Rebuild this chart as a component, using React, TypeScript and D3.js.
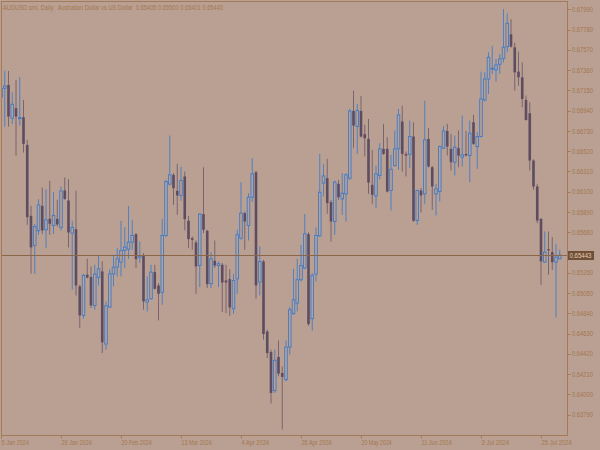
import React from 'react';
import * as d3 from 'd3';

const opens = [
  0.67078, 0.67172, 0.67206, 0.66861, 0.66965, 0.66858, 0.66872, 0.66585, 0.65850, 0.65543,
  0.65695, 0.65954, 0.65706, 0.65819, 0.65750, 0.65819, 0.65730, 0.66113, 0.66009, 0.65671,
  0.65712, 0.65119, 0.64819, 0.65240, 0.65216, 0.64922, 0.65212, 0.65274, 0.64522, 0.64905,
  0.65247, 0.65319, 0.65371, 0.65492, 0.65505, 0.65578, 0.65661, 0.65423, 0.65440, 0.64957,
  0.64991, 0.65267, 0.65129, 0.65057, 0.65647, 0.66178, 0.66275, 0.66109, 0.66061, 0.66258,
  0.65799, 0.65619, 0.65574, 0.65336, 0.65868, 0.65695, 0.65147, 0.65385, 0.65336, 0.65343,
  0.65181, 0.65195, 0.64888, 0.65198, 0.65619, 0.65878, 0.65750, 0.66044, 0.66302, 0.65164,
  0.65378, 0.64653, 0.64439, 0.64039, 0.64388, 0.64222, 0.64153, 0.64491, 0.64836, 0.64947,
  0.65188, 0.65309, 0.65661, 0.64784, 0.65247, 0.65643, 0.66189, 0.66240, 0.65992, 0.65792,
  0.66182, 0.66026, 0.66078, 0.66240, 0.66937, 0.66775, 0.66937, 0.66696, 0.66647, 0.66171,
  0.66057, 0.66268, 0.66544, 0.66544, 0.66113, 0.66371, 0.66544, 0.66827, 0.66492, 0.66489,
  0.66672, 0.65802, 0.66113, 0.66078, 0.66647, 0.66354, 0.66078, 0.66102, 0.66551, 0.66730,
  0.66544, 0.66406, 0.66551, 0.66458, 0.66492, 0.66475, 0.66820, 0.66568, 0.66672, 0.67051,
  0.67268, 0.67372, 0.67362, 0.67420, 0.67482, 0.67603, 0.67731, 0.67596, 0.67344, 0.67286,
  0.67051, 0.66913, 0.66423, 0.66154, 0.65819, 0.65371, 0.65505, 0.65474, 0.65371, 0.65405,
];
const highs = [
  0.67181, 0.67355, 0.67351, 0.67130, 0.67258, 0.67286, 0.67051, 0.66637, 0.65954, 0.65768,
  0.66023, 0.66144, 0.66126, 0.66213, 0.66095, 0.66016, 0.66154, 0.66247, 0.66230, 0.65799,
  0.66109, 0.65136, 0.65250, 0.65405, 0.65326, 0.65343, 0.65436, 0.65378, 0.64964, 0.65298,
  0.65447, 0.65516, 0.65799, 0.65733, 0.65954, 0.65809, 0.65671, 0.65585, 0.65464, 0.65222,
  0.65343, 0.65343, 0.65154, 0.65819, 0.66223, 0.66682, 0.66292, 0.66389, 0.66361, 0.66309,
  0.65850, 0.65637, 0.65595, 0.65878, 0.66354, 0.65706, 0.65474, 0.65595, 0.65378, 0.65361,
  0.65343, 0.65298, 0.65250, 0.65706, 0.66199, 0.65895, 0.66085, 0.66447, 0.66316, 0.65533,
  0.65395, 0.64671, 0.64464, 0.64464, 0.64560, 0.64291, 0.64560, 0.64905, 0.65302, 0.65405,
  0.65550, 0.65868, 0.65681, 0.65257, 0.65730, 0.66492, 0.66389, 0.66440, 0.66016, 0.66216,
  0.66223, 0.66292, 0.66292, 0.66958, 0.67148, 0.67010, 0.67092, 0.66792, 0.66854, 0.66534,
  0.66371, 0.66603, 0.66803, 0.66665, 0.66482, 0.66734, 0.66958, 0.66992, 0.66516, 0.66837,
  0.66820, 0.66120, 0.66137, 0.67044, 0.66758, 0.66368, 0.66182, 0.66578, 0.66782, 0.66803,
  0.66699, 0.66682, 0.66734, 0.66889, 0.66730, 0.66837, 0.66896, 0.66716, 0.67344, 0.67337,
  0.67544, 0.67613, 0.67475, 0.67527, 0.67993, 0.67948, 0.67889, 0.67644, 0.67551, 0.67441,
  0.67096, 0.67027, 0.66437, 0.66182, 0.65826, 0.65688, 0.65688, 0.65630, 0.65561, 0.65500,
];
const lows = [
  0.67067, 0.66775, 0.66775, 0.66803, 0.66475, 0.66785, 0.66506, 0.65757, 0.65250, 0.65250,
  0.65654, 0.65661, 0.65516, 0.65654, 0.65661, 0.65740, 0.65699, 0.66016, 0.65523, 0.65085,
  0.65026, 0.64688, 0.64784, 0.65202, 0.64895, 0.64878, 0.65129, 0.64429, 0.64464, 0.64895,
  0.65119, 0.65222, 0.65222, 0.65309, 0.65405, 0.65499, 0.65309, 0.65361, 0.64878, 0.64860,
  0.64981, 0.65085, 0.64767, 0.64929, 0.65630, 0.66168, 0.65964, 0.65861, 0.66006, 0.65699,
  0.65516, 0.65499, 0.65043, 0.65112, 0.65671, 0.65102, 0.65102, 0.65309, 0.65112, 0.64853,
  0.64843, 0.64815, 0.64836, 0.65043, 0.65602, 0.65499, 0.65595, 0.65992, 0.64991, 0.65026,
  0.64567, 0.64377, 0.63905, 0.64015, 0.64188, 0.63636, 0.64136, 0.64412, 0.64826, 0.64860,
  0.65171, 0.65298, 0.64712, 0.64660, 0.65171, 0.65630, 0.66051, 0.65871, 0.65585, 0.65654,
  0.66016, 0.65861, 0.65792, 0.66223, 0.66551, 0.66492, 0.66661, 0.66465, 0.66078, 0.65975,
  0.65930, 0.66230, 0.66482, 0.66092, 0.65906, 0.66361, 0.66327, 0.66309, 0.66258, 0.66344,
  0.65788, 0.65757, 0.65885, 0.65975, 0.66351, 0.65913, 0.65854, 0.65999, 0.66544, 0.66475,
  0.66320, 0.66268, 0.66354, 0.66361, 0.66465, 0.66199, 0.66585, 0.66337, 0.66661, 0.67034,
  0.67113, 0.67320, 0.67241, 0.67320, 0.67441, 0.67544, 0.67593, 0.67148, 0.67199, 0.66975,
  0.66837, 0.66320, 0.66120, 0.65775, 0.65136, 0.65361, 0.65240, 0.65291, 0.64798, 0.65401,
];
const closes = [
  0.67171, 0.67196, 0.66879, 0.67006, 0.66879, 0.66868, 0.66596, 0.65837, 0.65523, 0.65740,
  0.65964, 0.65699, 0.65809, 0.65768, 0.65854, 0.65761, 0.66109, 0.66026, 0.65678, 0.65730,
  0.65129, 0.64819, 0.65233, 0.65212, 0.64922, 0.65247, 0.65302, 0.64540, 0.64919, 0.65250,
  0.65319, 0.65405, 0.65492, 0.65526, 0.65578, 0.65647, 0.65402, 0.65436, 0.64964, 0.64981,
  0.65267, 0.65095, 0.65043, 0.65647, 0.66206, 0.66275, 0.66137, 0.66061, 0.66216, 0.65816,
  0.65609, 0.65602, 0.65326, 0.65868, 0.65706, 0.65143, 0.65405, 0.65336, 0.65354, 0.65160,
  0.65160, 0.64902, 0.65181, 0.65654, 0.65878, 0.65792, 0.66044, 0.66285, 0.65129, 0.65378,
  0.64626, 0.64429, 0.64015, 0.64353, 0.64215, 0.64181, 0.64491, 0.64878, 0.64981, 0.65188,
  0.65336, 0.65664, 0.64729, 0.65233, 0.65647, 0.66095, 0.66264, 0.65982, 0.65792, 0.66199,
  0.66044, 0.66085, 0.66275, 0.66937, 0.66785, 0.66941, 0.66672, 0.66654, 0.66195, 0.66068,
  0.66285, 0.66544, 0.66492, 0.66102, 0.66333, 0.66544, 0.66896, 0.66492, 0.66475, 0.66672,
  0.65799, 0.66113, 0.66061, 0.66637, 0.66361, 0.66154, 0.66130, 0.66568, 0.66730, 0.66568,
  0.66406, 0.66561, 0.66475, 0.66482, 0.66475, 0.66706, 0.66596, 0.66672, 0.67061, 0.67268,
  0.67493, 0.67379, 0.67413, 0.67475, 0.67596, 0.67845, 0.67603, 0.67337, 0.67286, 0.67061,
  0.66844, 0.66423, 0.66154, 0.65802, 0.65378, 0.65474, 0.65492, 0.65371, 0.65423, 0.65443,
];

const priceTicks = [
  0.6799, 0.6778, 0.6757, 0.6736, 0.6715, 0.6694, 0.6673, 0.6652, 0.6631, 0.661, 0.6589,
  0.6568, 0.6547, 0.6526, 0.6505, 0.6484, 0.6463, 0.6442, 0.6421, 0.64, 0.6379,
];
const dateLabels = [
  '5 Jan 2024', '29 Jan 2024', '20 Feb 2024', '13 Mar 2024', '4 Apr 2024',
  '26 Apr 2024', '20 May 2024', '11 Jun 2024', '3 Jul 2024', '25 Jul 2024',
];
const dateIndex = [0, 16, 32, 48, 64, 80, 96, 112, 128, 144];

const W = 600;
const H = 450;
const left = 1.5;
const right = 567.5;
const top = 1.5;
const bottom = 435.5;

const BG = '#b9a093';
const AXIS = '#a47a58';
const TEXT = '#a5774e';
const BULL = '#3d7bcb';
const BEAR = '#5e4c60';
const FONT = '"Liberation Sans", Arial, sans-serif';

export default function App() {
  const x = d3.scaleLinear().domain([0, opens.length - 1]).range([1, 1 + 3.75 * (opens.length - 1)]);
  // price axis: 0.0021 per ~20.27px
  const y = d3.scaleLinear().domain([0.6379, 0.6799]).range([414.7, 9.3]);
  const bw = 2.6;
  const last = closes[closes.length - 1];
  const ly = Math.round(y(last)) + 0.5;

  return (
    <svg width={W} height={H} style={{ position: 'fixed', left: 0, top: 0 }} fontFamily={FONT}>
      <rect width={W} height={H} fill={BG} />
      <defs>
        <clipPath id="plot">
          <rect x={left} y={top} width={right - left} height={bottom - top} />
        </clipPath>
      </defs>

      <g clipPath="url(#plot)">
        {opens.map((o, i) => {
          const c = closes[i];
          const up = c >= o;
          const cx = x(i);
          const yTop = y(Math.max(o, c));
          const yBot = y(Math.min(o, c));
          const h = Math.max(yBot - yTop, 0.8);
          return (
            <g key={i}>
              <line x1={cx} x2={cx} y1={y(highs[i])} y2={y(lows[i])}
                stroke={up ? BULL : BEAR} strokeWidth={1} strokeOpacity={up ? 0.85 : 0.7} />
              {up ? (
                <rect x={cx - bw / 2} y={yTop} width={bw} height={h}
                  fill={BG} stroke={BULL} strokeWidth={0.9} />
              ) : (
                <rect x={cx - bw / 2} y={yTop} width={bw} height={h} fill={BEAR} />
              )}
            </g>
          );
        })}
      </g>

      {/* last price line */}
      <line x1={left} x2={right} y1={ly} y2={ly} stroke="#8a6749" strokeWidth={1} />

      {/* frame */}
      <rect x={left} y={top} width={right - left} height={bottom - top} fill="none" stroke={AXIS} strokeWidth={1} />

      {/* price axis */}
      {priceTicks.map((p) => {
        const ty = Math.round(y(p)) + 0.5;
        const hidden = Math.abs(y(p) - ly) < 8;
        return (
          <g key={p}>
            <line x1={right} x2={right + 3} y1={ty} y2={ty} stroke={AXIS} />
            {!hidden && (
              <text x={572} y={y(p) + 2.6} fontSize={7} fill={TEXT} textLength={21} lengthAdjust="spacingAndGlyphs">
                {p.toFixed(5)}
              </text>
            )}
          </g>
        );
      })}

      {/* last price box */}
      <rect x={568} y={ly - 4.5} width={26} height={9} fill="#6f4f36" />
      <text x={569.5} y={ly + 2.6} fontSize={7} fill="#e2cdb8" textLength={22} lengthAdjust="spacingAndGlyphs">
        {last.toFixed(5)}
      </text>

      {/* time axis */}
      {dateLabels.map((d, k) => {
        const tx = Math.round(x(dateIndex[k])) + 0.5;
        return (
          <g key={d}>
            <line x1={tx} x2={tx} y1={bottom} y2={bottom + 3} stroke={AXIS} />
            <text x={tx} y={444.5} fontSize={7} fill={TEXT} textLength={d.length * 2.75} lengthAdjust="spacingAndGlyphs">
              {d}
            </text>
          </g>
        );
      })}

      <text x={3} y={9.5} fontSize={7} fill={TEXT} textLength={220} lengthAdjust="spacingAndGlyphs" xmlSpace="preserve">
        {`AUDUSD.sml, Daily:  Australian Dollar vs US Dollar  ${opens[149].toFixed(5)} ${highs[149].toFixed(5)} ${lows[149].toFixed(5)} ${closes[149].toFixed(5)}`}
      </text>
    </svg>
  );
}
